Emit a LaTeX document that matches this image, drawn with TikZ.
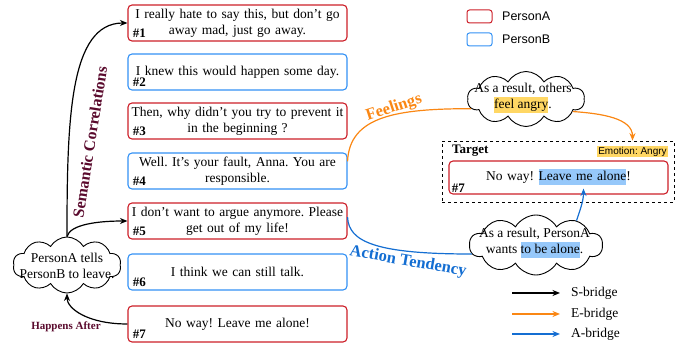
\documentclass[tikz,border=0pt]{standalone}
\usepackage{fontspec}
\setmainfont{Liberation Serif}
\newfontfamily\legfont{Liberation Sans}
\usetikzlibrary{shapes.symbols,arrows.meta,calc}
\definecolor{pa}{RGB}{204,30,40}
\definecolor{pb}{RGB}{50,145,245}
\definecolor{orn}{RGB}{250,135,20}
\definecolor{blu}{RGB}{20,110,210}
\definecolor{mar}{RGB}{90,10,45}
\definecolor{hly}{RGB}{255,215,100}
\definecolor{hlb}{RGB}{150,200,250}
\newcommand{\hlY}[1]{{\setlength{\fboxsep}{0pt}\colorbox{hly}{\strut #1}}}
\newcommand{\hlB}[1]{{\setlength{\fboxsep}{0pt}\colorbox{hlb}{\strut #1}}}
\frenchspacing
\hyphenpenalty=10000
\tikzset{
  utt/.style={draw, rounded corners=4pt, line width=1.1pt, minimum width=219pt,
    minimum height=36pt, text width=219pt, align=center, inner sep=0pt,
    font=\fontsize{13.5}{16}\selectfont},
  uttA/.style={utt, draw=pa},
  uttB/.style={utt, draw=pb},
  numlab/.style={font=\fontsize{13}{15}\selectfont\bfseries, inner sep=0pt},
  thought/.style={cloud, draw, cloud puffs=10, cloud puff arc=120, cloud ignores aspect,
    inner sep=0pt, line width=0.9pt, fill=white},
  ctext/.style={align=center, inner sep=0pt, font=\fontsize{13.5}{16}\selectfont},
  arr/.style={line width=1.2pt, -{Stealth[length=7.5pt,width=6pt]}},
  plain/.style={line width=1.2pt},
  legbox/.style={draw, rounded corners=2.5pt, line width=1pt, minimum width=25pt, minimum height=13pt, inner sep=0pt},
  legtext/.style={anchor=west, inner sep=0pt, font=\legfont\fontsize{12.5}{14}\selectfont},
  bridgetext/.style={anchor=west, inner sep=0pt, font=\fontsize{13.5}{16}\selectfont},
}
\begin{document}
\begin{tikzpicture}[x=1pt,y=1pt]
\path[use as bounding box] (0,0) rectangle (681,345);

% utterance boxes
\node[uttA] (b1) at (237.5,322) {I really hate to say this, but don't go\\away mad, just go away.};
\node[uttB] (b2) at (237.5,273) {I knew this would happen some day.};
\node[uttA] (b3) at (237.5,224) {Then, why didn't you try to prevent it\\in the beginning ?};
\node[uttB] (b4) at (237.5,174) {Well. It's your fault, Anna. You are\\responsible.};
\node[uttA] (b5) at (237.5,124) {I don't want to argue anymore. Please\\get out of my life!};
\node[uttB] (b6) at (237.5,73) {I think we can still talk.};
\node[uttA] (b7) at (237.5,21) {No way! Leave me alone!};
\foreach \i in {1,...,7}{
  \node[numlab] (n\i) at ($(b\i.south west)+(12,8)$) {\#\i};
}

% cloud 1
\node[thought, minimum width=108pt, minimum height=56pt] (c1) at (67,80) {};
\node[ctext] (c1t) at (67,79) {PersonA tells\\PersonB to leave.};

% black arrows
\draw[arr] (c1.north) .. controls +(0,117) and +(-58,0) .. (b1.west);
\draw[arr] (c1.north) .. controls +(3,12) and +(-30,0) .. (b5.west);
\draw[arr] (b7.west) .. controls +(-40,0) and +(0,-15) .. (c1.south);
\node[rotate=81, text=mar, font=\fontsize{16}{18}\selectfont\bfseries, inner sep=0pt] (sem) at (90,203) {Semantic Correlations};
\node[text=mar, font=\fontsize{11}{13}\selectfont\bfseries, inner sep=0pt] (ha) at (66,18) {Happens After};

% legend top
\node[legbox, draw=pa] (la) at (479.5,328.5) {};
\node[legtext] (lat) at (502,328.5) {PersonA};
\node[legbox, draw=pb] (lb) at (479.5,305.5) {};
\node[legtext] (lbt) at (502,305.5) {PersonB};

% target
\node[draw, dashed, line width=0.8pt, minimum width=232pt, minimum height=61pt, inner sep=0pt] (tgt) at (558,173.5) {};
\node[anchor=west, font=\fontsize{13}{15}\selectfont\bfseries, inner sep=0pt] (tgl) at (452,194) {Target};
\node[inner sep=0pt, font=\legfont\fontsize{10}{12}\selectfont] (emo) at (632.5,193.5) {\setlength{\fboxsep}{1pt}\colorbox{hly}{Emotion: Angry}};
\node[uttA, minimum height=33pt] (t7) at (558.5,167.5) {No way! \hlB{Leave me alone}!};
\node[numlab] (t7n) at ($(t7.south west)+(10,6)$) {\#7};

% cloud 2
\node[thought, minimum width=117pt, minimum height=55pt] (c2) at (526,246) {};
\node[ctext] (c2t) at (523,247) {As a result, others\\\hlY{feel angry}.};
% cloud 3
\node[thought, minimum width=133pt, minimum height=60pt] (c3) at (536,100) {};
\node[ctext] (c3t) at (534.5,102) {As a result, PersonA\\wants \hlB{to be alone}.};

% orange bridge
\draw[plain, orn] (b4.5) .. controls +(2,45) and +(-75,0) .. (c2.190);
\draw[arr, orn] (c2.345) .. controls +(30,-2) and +(0,22) .. (tgt.north -| emo.north);
\node[rotate=18, text=orn, font=\fontsize{16.5}{18}\selectfont\bfseries, inner sep=0pt] (fe) at (394,237) {Feelings};

% blue bridge
\draw[plain, blu] (b5.2) .. controls +(1,-25) and +(-95,0) .. (c3.188);
\coordinate (tip) at ($(t7.south)+(25,6)$);
\draw[arr, blu] (c3.31) .. controls +(4,12) and +(0,-12) .. (tip);
\node[rotate=-10, text=blu, font=\fontsize{16.5}{18}\selectfont\bfseries, inner sep=0pt] (at) at (408,83) {Action Tendency};

% bottom legend
\coordinate (s0) at (512,52); \coordinate (s1) at (560,52);
\coordinate (e0) at (512,31); \coordinate (e1) at (560,31);
\coordinate (a0) at (512,11); \coordinate (a1) at (560,11);
\draw[arr] (s0) -- (s1);
\draw[arr, orn] (e0) -- (e1);
\draw[arr, blu] (a0) -- (a1);
\node[bridgetext] (st) at (571,52) {S-bridge};
\node[bridgetext] (et) at (571,31) {E-bridge};
\node[bridgetext] (abt) at (571,11) {A-bridge};
\end{tikzpicture}
\end{document}
